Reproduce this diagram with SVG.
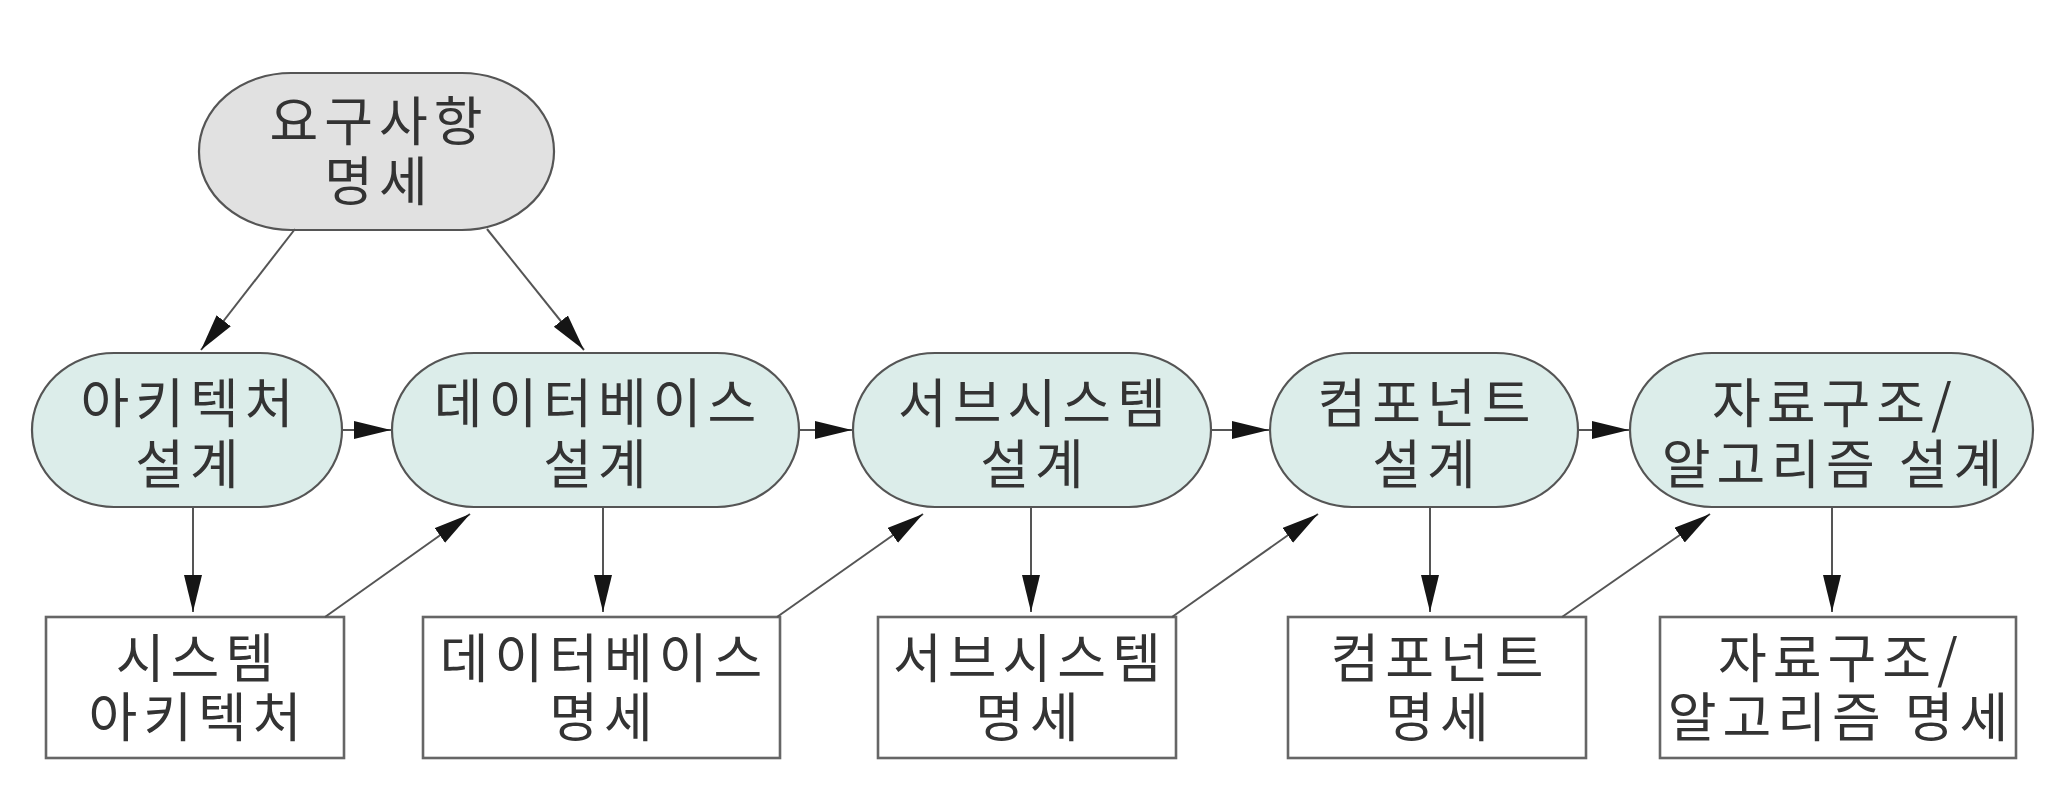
<svg xmlns="http://www.w3.org/2000/svg" width="2048" height="788" viewBox="0 0 2048 788">
<style>
  .design rect { fill: #dcedea; stroke: #555; stroke-width: 2.2; }
  .req rect { fill: #e1e1e1; stroke: #555; stroke-width: 2.2; }
  .spec rect { fill: #ffffff; stroke: #666; stroke-width: 2.6; }
  text { font-family: "Noto Sans CJK KR", "Noto Sans", sans-serif; font-size: 53px; letter-spacing: 6px; fill: #333333; text-anchor: middle; }
  .conn line { stroke: #555; stroke-width: 2; fill: none; marker-end: url(#arrow); }
</style>
<defs>
  <marker id="arrow" markerUnits="userSpaceOnUse" markerWidth="40" markerHeight="20" refX="37" refY="9" orient="auto">
    <path d="M0,0 L37,9 L0,18 z" fill="#151515"/>
  </marker>
</defs>
<rect width="2048" height="788" fill="#ffffff"/>

<g id="req" class="req">
  <rect x="199" y="73" width="355" height="157" rx="92" ry="78"/>
  <text x="379" y="141">요구사항<tspan x="379" dy="60">명세</tspan></text>
</g>

<g id="n1" class="design">
  <rect x="32" y="353" width="310" height="154" rx="82" ry="77"/>
  <text x="190" y="423">아키텍처<tspan x="190" dy="61">설계</tspan></text>
</g>
<g id="n2" class="design">
  <rect x="392" y="353" width="407" height="154" rx="82" ry="77"/>
  <text x="598" y="423">데이터베이스<tspan x="598" dy="61">설계</tspan></text>
</g>
<g id="n3" class="design">
  <rect x="853" y="353" width="358" height="154" rx="82" ry="77"/>
  <text x="1035" y="423">서브시스템<tspan x="1035" dy="61">설계</tspan></text>
</g>
<g id="n4" class="design">
  <rect x="1270" y="353" width="308" height="154" rx="82" ry="77"/>
  <text x="1427" y="423">컴포넌트<tspan x="1427" dy="61">설계</tspan></text>
</g>
<g id="n5" class="design">
  <rect x="1630" y="353" width="403" height="154" rx="82" ry="77"/>
  <text x="1835" y="423">자료구조/<tspan x="1835" dy="61">알고리즘 설계</tspan></text>
</g>

<g id="b1" class="spec">
  <rect x="46" y="617" width="298" height="141"/>
  <text x="198" y="678">시스템<tspan x="198" dy="59">아키텍처</tspan></text>
</g>
<g id="b2" class="spec">
  <rect x="423" y="617" width="357" height="141"/>
  <text x="604" y="678">데이터베이스<tspan x="604" dy="59">명세</tspan></text>
</g>
<g id="b3" class="spec">
  <rect x="878" y="617" width="298" height="141"/>
  <text x="1030" y="678">서브시스템<tspan x="1030" dy="59">명세</tspan></text>
</g>
<g id="b4" class="spec">
  <rect x="1288" y="617" width="298" height="141"/>
  <text x="1440" y="678">컴포넌트<tspan x="1440" dy="59">명세</tspan></text>
</g>
<g id="b5" class="spec">
  <rect x="1660" y="617" width="356" height="141"/>
  <text x="1841" y="678">자료구조/<tspan x="1841" dy="59">알고리즘 명세</tspan></text>
</g>

<g id="connectors" class="conn">
  <line x1="295" y1="229" x2="201" y2="350"/>
  <line x1="487" y1="229" x2="584" y2="350"/>
  <line x1="342" y1="430" x2="391" y2="430"/>
  <line x1="799" y1="430" x2="852" y2="430"/>
  <line x1="1211" y1="430" x2="1269" y2="430"/>
  <line x1="1578" y1="430" x2="1629" y2="430"/>
  <line x1="193" y1="507" x2="193" y2="612"/>
  <line x1="603" y1="507" x2="603" y2="612"/>
  <line x1="1031" y1="507" x2="1031" y2="612"/>
  <line x1="1430" y1="507" x2="1430" y2="612"/>
  <line x1="1832" y1="507" x2="1832" y2="612"/>
  <line x1="325" y1="617" x2="470" y2="514"/>
  <line x1="777" y1="617" x2="923" y2="514"/>
  <line x1="1172" y1="617" x2="1318" y2="514"/>
  <line x1="1562" y1="617" x2="1710" y2="514"/>
</g>
</svg>
